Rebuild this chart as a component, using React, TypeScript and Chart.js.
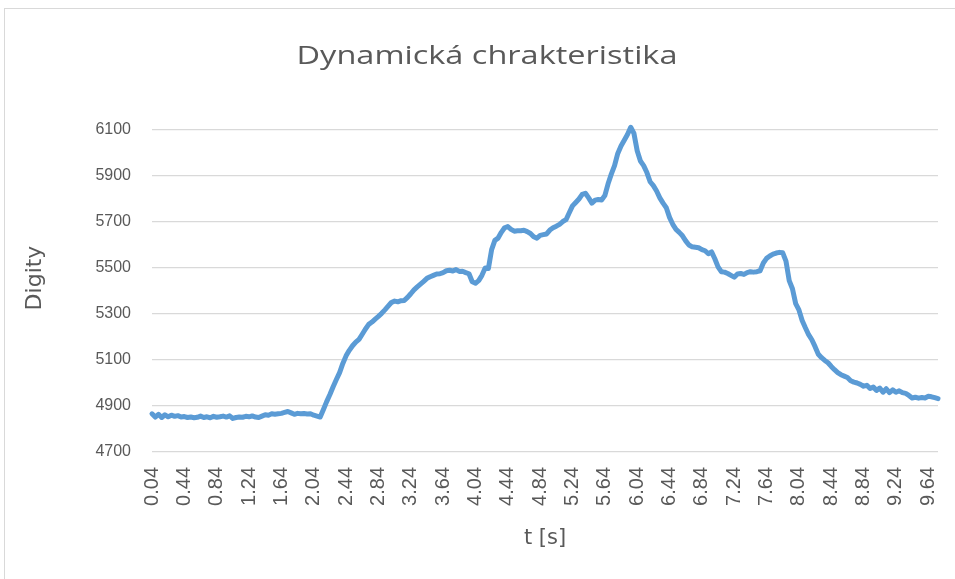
import React, { useEffect, useRef } from "react";
import { Chart, registerables } from "chart.js";

Chart.register(...registerables);

const chartTitle = "Dynamická chrakteristika";
const xTitle = "t [s]";
const yTitle = "Digity";

const idleDigits = [
  4866, 4852, 4864, 4850, 4862, 4853, 4860, 4855, 4858, 4852,
  4854, 4850, 4852, 4849, 4851, 4856, 4850, 4853, 4849, 4855,
  4851, 4853, 4856, 4852, 4857, 4846, 4850, 4852, 4851, 4855,
  4853, 4857, 4852, 4850, 4856, 4862, 4860, 4866, 4864, 4866,
  4868, 4872, 4876, 4870, 4864, 4868, 4866, 4867, 4865, 4866,
  4860, 4856,
];
const riseDigits = [
  4852, 4885, 4919, 4950, 4984, 5015, 5045, 5085, 5118, 5142,
  5162, 5178, 5190, 5212, 5235, 5255, 5265, 5278, 5290, 5303,
  5318, 5334, 5350, 5356, 5353, 5358, 5359, 5372, 5388, 5405,
  5418, 5430, 5442, 5455, 5462, 5468, 5474, 5475, 5480, 5488,
  5490, 5487, 5493, 5485, 5486, 5480, 5475, 5440, 5434, 5445,
];
const peakDigits = [
  5468, 5500, 5498, 5580, 5620, 5630, 5655, 5675, 5680, 5668,
  5660, 5662, 5662, 5664, 5658, 5650, 5636, 5630, 5642, 5645,
  5648, 5665, 5675, 5682, 5690, 5702, 5710, 5740, 5770, 5785,
  5800, 5820, 5825, 5805, 5782, 5795, 5798, 5796, 5815, 5866,
  5908, 5945, 5998, 6030, 6055, 6080, 6112, 6085, 6010, 5965,
];
const fallDigits = [
  5945, 5915, 5875, 5858, 5835, 5805, 5782, 5762, 5720, 5690,
  5668, 5655, 5640, 5618, 5600, 5592, 5590, 5588, 5580, 5575,
  5562, 5570, 5540, 5505, 5484, 5482, 5476, 5468, 5460, 5474,
  5476, 5472, 5480, 5484, 5482, 5484, 5488, 5522, 5542, 5552,
  5560, 5565, 5568, 5566, 5530, 5445, 5410, 5345, 5318, 5272,
];
const settleDigits = [
  5240, 5210, 5188, 5158, 5125, 5110, 5098, 5088, 5072, 5058,
  5045, 5036, 5030, 5024, 5010, 5004, 5000, 4994, 4986, 4990,
  4976, 4982, 4968, 4978, 4960, 4975, 4958, 4970, 4960, 4966,
  4958, 4955, 4946, 4935, 4938, 4934, 4937, 4935, 4942, 4940,
  4936, 4932,
];

const digits = [...idleDigits, ...riseDigits, ...peakDigits, ...fallDigits, ...settleDigits];
const timeStep = 0.04;
const timeLabels = digits.map((_, i) => ((i + 1) * timeStep).toFixed(2));
const xLabelEvery = 10;
const yMin = 4700;
const yMax = 6100;
const yStep = 200;

const textColor = "#595959";
const gridColor = "#d9d9d9";
const lineColor = "#5b9bd5";

const titlesPlugin = {
  id: "chartTitles",
  afterDraw(chart: any) {
    const ctx = chart.ctx;
    const area = chart.chartArea;
    // chart title
    ctx.save();
    ctx.font = "26px 'Open Sans', sans-serif";
    ctx.fillStyle = textColor;
    ctx.textAlign = "center";
    ctx.textBaseline = "alphabetic";
    ctx.translate((area.left + area.right) / 2 - 58, 64);
    ctx.scale(1.25, 1);
    ctx.fillText(chartTitle, 0, 0);
    ctx.restore();
    // y axis title
    ctx.save();
    ctx.font = "22px 'DejaVu Sans', sans-serif";
    ctx.fillStyle = textColor;
    ctx.textAlign = "center";
    ctx.textBaseline = "middle";
    ctx.translate(35, (area.top + area.bottom) / 2 - 13);
    ctx.rotate(-Math.PI / 2);
    ctx.fillText(yTitle, 0, 0);
    ctx.restore();
  },
};

export default function App() {
  const canvasRef = useRef<HTMLCanvasElement | null>(null);

  useEffect(() => {
    const canvas = canvasRef.current;
    if (!canvas) return;
    const chart = new Chart(canvas, {
      type: "line",
      data: {
        labels: timeLabels,
        datasets: [
          {
            data: digits,
            borderColor: lineColor,
            backgroundColor: lineColor,
            borderWidth: 5,
            pointRadius: 0,
            tension: 0,
            borderJoinStyle: "round",
            borderCapStyle: "round",
            fill: false,
            clip: false,
          },
        ],
      },
      plugins: [titlesPlugin],
      options: {
        responsive: false,
        animation: false,
        layout: { padding: { left: 0, right: 17, top: 130, bottom: 0 } },
        plugins: {
          legend: { display: false },
          tooltip: { enabled: false },
          title: { display: false },
        },
        scales: {
          x: {
            type: "category",
            offset: false,
            grid: { display: false, drawTicks: false },
            border: { display: false },
            ticks: {
              autoSkip: false,
              maxRotation: 90,
              minRotation: 90,
              padding: 15,
              color: textColor,
              font: { family: "'Liberation Sans', Arial, sans-serif", size: 20 },
              callback: (_v: any, i: number) => (i % xLabelEvery === 0 ? timeLabels[i] : ""),
            },
            title: {
              display: true,
              text: xTitle,
              color: textColor,
              font: { family: "'DejaVu Sans', sans-serif", size: 21 },
              padding: { top: 0, bottom: 28 },
            },
            afterFit: (scale: any) => {
              scale.height = 127;
              scale.paddingLeft = 0;
              scale.paddingRight = 0;
            },
          },
          y: {
            min: yMin,
            max: yMax,
            grid: { color: gridColor, lineWidth: 1.2, drawTicks: false },
            border: { display: false },
            ticks: {
              stepSize: yStep,
              padding: 21,
              color: textColor,
              font: { family: "'Liberation Sans', Arial, sans-serif", size: 16 },
              callback: (v: any) => String(v),
            },
            title: { display: false },
            afterFit: (scale: any) => {
              scale.width = 152;
            },
          },
        },
      },
    });
    return () => chart.destroy();
  }, []);

  return (
    <div style={{ position: "absolute", left: 0, top: 0, width: 955, height: 579, overflow: "hidden", background: "#fff" }}>
      <div
        style={{
          position: "absolute",
          left: 4,
          top: 8,
          width: 1000,
          height: 1000,
          border: `1px solid ${gridColor}`,
          boxSizing: "border-box",
        }}
      />
      <canvas
        ref={canvasRef}
        width={955}
        height={579}
        style={{ position: "absolute", left: 0, top: 0, width: 955, height: 579 }}
      />
    </div>
  );
}
